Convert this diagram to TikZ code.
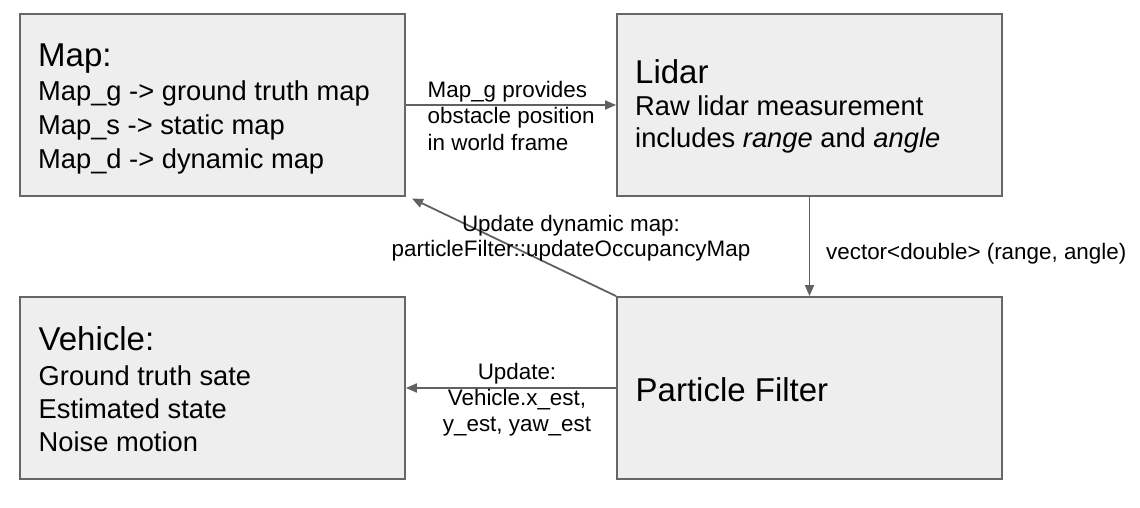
\documentclass[tikz,border=0pt]{standalone}
\usepackage{fontspec}
\setmainfont{Liberation Sans}
\usetikzlibrary{arrows.meta}
\definecolor{boxfill}{HTML}{EEEEEE}
\definecolor{boxline}{HTML}{666666}
\definecolor{arrowcol}{HTML}{616161}
\begin{document}
\begin{tikzpicture}[x=1pt,y=-1pt,
  blockbox/.style={draw=boxline,fill=boxfill,line width=1.8pt,rectangle,
    minimum width=385pt,minimum height=182pt,inner sep=0pt},
  titletext/.style={font=\fontsize{33}{40}\selectfont,anchor=base west,inner sep=0pt},
  bodytext/.style={font=\fontsize{27.3}{33}\selectfont,anchor=base west,inner sep=0pt},
  lbltext/.style={font=\fontsize{22.4}{26.5}\selectfont,inner sep=0pt},
  conn/.style={draw=arrowcol,line width=1.8pt,-{Triangle[length=11pt,width=9pt]}}]
\useasboundingbox (0,0) rectangle (1140,508);
\fill[white] (0,0) rectangle (1140,508);
% boxes
\node[blockbox] (map) at (212.5,105) {};
\node[blockbox] (lidar) at (809.5,105) {};
\node[blockbox] (veh) at (212.5,388) {};
\node[blockbox] (pf) at (809.5,388) {};
% map text
\node[titletext] (mapt) at (38,67) {Map:};
\node[bodytext] (map1) at (38,101) {Map\_g -> ground truth map};
\node[bodytext] (map2) at (38,135) {Map\_s -> static map};
\node[bodytext] (map3) at (38,168.3) {Map\_d -> dynamic map};
% lidar text
\node[titletext] (lidt) at (635,84) {Lidar};
\node[bodytext] (lid1) at (635,115.5) {Raw lidar measurement};
\node[bodytext] (lid2) at (635,147) {includes \textit{range} and \textit{angle}};
% vehicle text
\node[titletext] (veht) at (38.5,350.5) {Vehicle:};
\node[bodytext] (veh1) at (38.5,385) {Ground truth sate};
\node[bodytext] (veh2) at (38.5,418.3) {Estimated state};
\node[bodytext] (veh3) at (38.5,451.7) {Noise motion};
% pf text
\node[titletext] (pft) at (635.5,401.5) {Particle Filter};
% connectors
\coordinate (mapcorner) at (412,198.5);
\draw[conn] (map.east) -- (lidar.west);
\draw[conn] (lidar.south) -- (pf.north);
\draw[conn] (pf.west) -- (veh.east);
\draw[conn] (pf.north west) -- (mapcorner);
% labels
\node[lbltext,anchor=base west] (l1a) at (427.5,97.3) {Map\_g provides};
\node[lbltext,anchor=base west] (l1b) at (427.5,124) {obstacle position};
\node[lbltext,anchor=base west] (l1c) at (427.5,150) {in world frame};
\node[lbltext,anchor=base west] (l2) at (826,259) {vector<double> (range, angle)};
\node[lbltext,anchor=base] (l3a) at (571,231.7) {Update dynamic map:};
\node[lbltext,anchor=base] (l3b) at (571,256.7) {particleFilter::updateOccupancyMap};
\node[lbltext,anchor=base] (l4a) at (517,379) {Update:};
\node[lbltext,anchor=base] (l4b) at (517,405.7) {Vehicle.x\_est,};
\node[lbltext,anchor=base] (l4c) at (517,431) {y\_est, yaw\_est};
\end{tikzpicture}
\end{document}
